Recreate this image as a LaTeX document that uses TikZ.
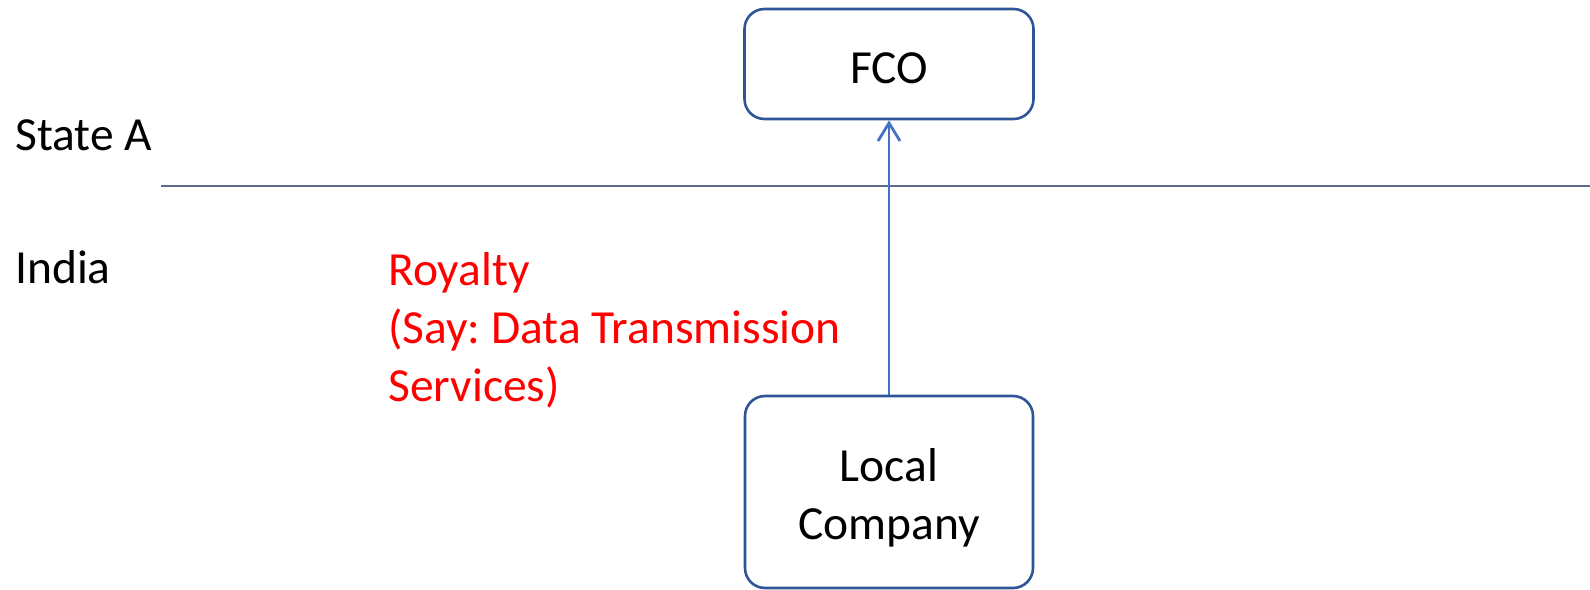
\documentclass[tikz,border=0pt]{standalone}
\usepackage{fontspec}
\setmainfont{Carlito}
\usetikzlibrary{arrows.meta}
\frenchspacing
\definecolor{boxblue}{HTML}{2F5597}
\definecolor{arrowblue}{HTML}{4472C4}
\definecolor{rulegray}{HTML}{5B6B88}
\begin{document}
\begin{tikzpicture}[x=1pt,y=-1pt,
  entity/.style={draw=boxblue, line width=2.6pt, rounded corners=20pt,
    fill=white, inner sep=0pt},
  entitytext/.style={align=center, inner sep=0pt, font=\fontsize{47.5}{58}\selectfont},
  label/.style={anchor=base west, inner sep=0pt, font=\fontsize{47.5}{58}\selectfont},
  flow/.style={draw=arrowblue, line width=2.8pt,
    -{Straight Barb[length=18pt,width=22pt,line width=2.8pt]}}]
  \useasboundingbox (0,0) rectangle (1590,589);
  % border between the two jurisdictions
  \draw[rulegray, line width=1.7pt] (161,186) -- (1590,186);
  % jurisdiction labels
  \node[label] (state) at (15,150) {State A};
  \node[label] (india) at (15,283) {India};
  % entities
  \node[entity, minimum width=289pt, minimum height=110pt] (fco) at (889,64) {};
  \node[entitytext] (fcotext) at ([yshift=-4pt]fco.center) {FCO};
  \node[entity, minimum width=288pt, minimum height=192pt] (local) at (889,492) {};
  \node[entitytext] (localtext) at ([yshift=-6pt]local.center) {Local\\Company};
  % payment flow
  \draw[flow] (local.north) -- (fco.south);
  \node[label, text=red, align=left, anchor=north west] (royalty) at (388,252)
    {Royalty\\(Say: Data Transmission\\Services)};
\end{tikzpicture}
\end{document}
